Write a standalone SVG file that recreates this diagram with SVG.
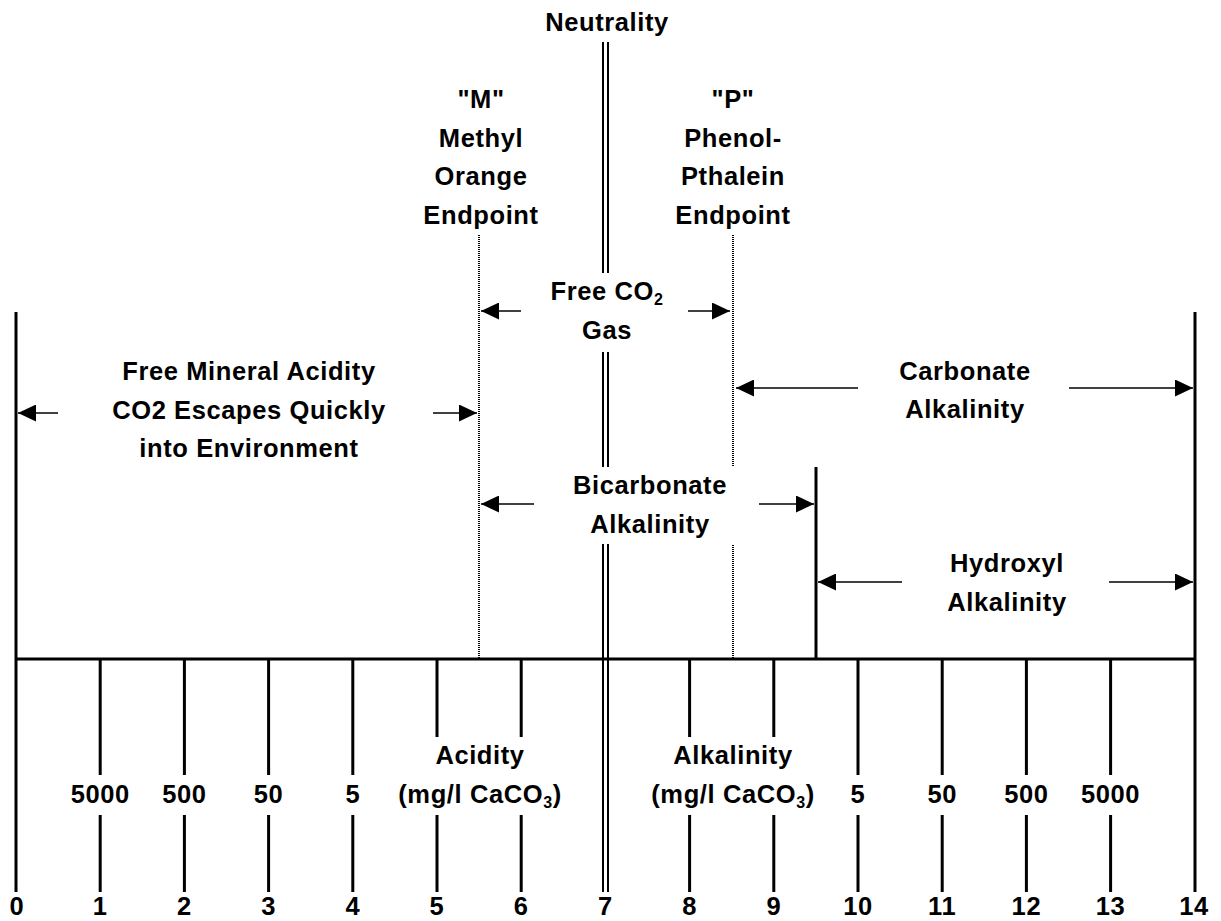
<svg xmlns="http://www.w3.org/2000/svg" width="1221" height="921" viewBox="0 0 1221 921">
<style>
.t{font-family:"Liberation Sans",Arial,Helvetica,sans-serif;font-weight:bold;font-size:25.5px;text-anchor:middle;letter-spacing:0.6px;fill:#000}
.sub{font-size:16px}
.ln{stroke:#000;stroke-width:3;fill:none}
.dbl{stroke:#000;stroke-width:2;fill:none}
.dot{stroke:#000;stroke-width:2;stroke-dasharray:1 1;fill:none}
.arr{stroke:#000;stroke-width:1.5;fill:none;marker-end:url(#ah)}
</style>
<defs>
<marker id="ah" viewBox="0 0 18 17" refX="18" refY="8.5" markerWidth="18" markerHeight="17" markerUnits="userSpaceOnUse" orient="auto">
<path d="M0,0 L18,8.5 L0,17 Z" fill="#000"/>
</marker>
</defs>
<rect width="1221" height="921" fill="#fff"/>

<g id="scale">
<line class="ln" x1="16" y1="312" x2="16" y2="892"/>
<line class="ln" x1="1195" y1="312" x2="1195" y2="892"/>
<line class="ln" x1="16" y1="659" x2="1195" y2="659"/>
<line class="ln" x1="816" y1="467" x2="816" y2="659"/>
<g class="ln">
<path d="M100.2,659V775M100.2,815V892M184.4,659V775M184.4,815V892M268.6,659V775M268.6,815V892M352.8,659V775M352.8,815V892"/>
<path d="M437,659V737M437,815V892M521.2,659V737M521.2,815V892"/>
<path d="M689.6,659V737M689.6,815V892M773.8,659V737M773.8,815V892"/>
<path d="M858,659V775M858,815V892M942.2,659V775M942.2,815V892M1026.4,659V775M1026.4,815V892M1110.6,659V775M1110.6,815V892"/>
</g>
</g>

<g id="neutral-line">
<path class="dbl" d="M603,42V273M608,42V273M603,352V467M608,352V467M603,544V892M608,544V892"/>
</g>

<g id="m-endpoint-line">
<line class="dot" x1="479" y1="235" x2="479" y2="659"/>
</g>
<g id="p-endpoint-line">
<path class="dot" d="M733,235V467M733,545V659"/>
</g>

<g id="connectors">
<line class="arr" x1="58" y1="413" x2="18" y2="413"/>
<line class="arr" x1="433" y1="413" x2="477" y2="413"/>
<line class="arr" x1="521" y1="311" x2="481" y2="311"/>
<line class="arr" x1="688" y1="311" x2="730" y2="311"/>
<line class="arr" x1="858" y1="388" x2="736" y2="388"/>
<line class="arr" x1="1069" y1="388" x2="1193" y2="388"/>
<line class="arr" x1="534" y1="504" x2="481" y2="504"/>
<line class="arr" x1="759" y1="504" x2="814" y2="504"/>
<line class="arr" x1="902" y1="582" x2="818" y2="582"/>
<line class="arr" x1="1109" y1="582" x2="1193" y2="582"/>
</g>

<g id="neutrality">
<text class="t" x="607" y="31">Neutrality</text>
</g>
<g id="m-endpoint">
<text class="t" x="481" y="108">"M"</text>
<text class="t" x="481" y="146.5">Methyl</text>
<text class="t" x="481" y="185">Orange</text>
<text class="t" x="481" y="223.5">Endpoint</text>
</g>
<g id="p-endpoint">
<text class="t" x="733" y="108">"P"</text>
<text class="t" x="733" y="146.5">Phenol-</text>
<text class="t" x="733" y="185">Pthalein</text>
<text class="t" x="733" y="223.5">Endpoint</text>
</g>
<g id="free-co2">
<text class="t" x="607" y="300">Free CO<tspan class="sub" dy="5">2</tspan></text>
<text class="t" x="607" y="339">Gas</text>
</g>
<g id="free-mineral-acidity">
<text class="t" x="249" y="380">Free Mineral Acidity</text>
<text class="t" x="249" y="419">CO2 Escapes Quickly</text>
<text class="t" x="249" y="457">into Environment</text>
</g>
<g id="carbonate">
<text class="t" x="965" y="380">Carbonate</text>
<text class="t" x="965" y="418">Alkalinity</text>
</g>
<g id="bicarbonate">
<text class="t" x="650" y="494">Bicarbonate</text>
<text class="t" x="650" y="532.5">Alkalinity</text>
</g>
<g id="hydroxyl">
<text class="t" x="1007" y="572">Hydroxyl</text>
<text class="t" x="1007" y="610.5">Alkalinity</text>
</g>
<g id="acidity-label">
<text class="t" x="480" y="764">Acidity</text>
<text class="t" x="480" y="803">(mg/l CaCO<tspan class="sub" dy="5">3</tspan><tspan dy="-5">)</tspan></text>
</g>
<g id="alkalinity-label">
<text class="t" x="733" y="764">Alkalinity</text>
<text class="t" x="733" y="803">(mg/l CaCO<tspan class="sub" dy="5">3</tspan><tspan dy="-5">)</tspan></text>
</g>
<g id="concentrations">
<text class="t" x="100.2" y="803">5000</text>
<text class="t" x="184.4" y="803">500</text>
<text class="t" x="268.6" y="803">50</text>
<text class="t" x="352.8" y="803">5</text>
<text class="t" x="858" y="803">5</text>
<text class="t" x="942.2" y="803">50</text>
<text class="t" x="1026.4" y="803">500</text>
<text class="t" x="1110.6" y="803">5000</text>
</g>
<g id="ph-labels">
<text class="t" x="17" y="915">0</text>
<text class="t" x="100.2" y="915">1</text>
<text class="t" x="184.4" y="915">2</text>
<text class="t" x="268.6" y="915">3</text>
<text class="t" x="352.8" y="915">4</text>
<text class="t" x="437" y="915">5</text>
<text class="t" x="521.2" y="915">6</text>
<text class="t" x="605.5" y="915">7</text>
<text class="t" x="689.6" y="915">8</text>
<text class="t" x="773.8" y="915">9</text>
<text class="t" x="858" y="915">10</text>
<text class="t" x="942.2" y="915">11</text>
<text class="t" x="1026.4" y="915">12</text>
<text class="t" x="1110.6" y="915">13</text>
<text class="t" x="1194" y="915">14</text>
</g>
</svg>
